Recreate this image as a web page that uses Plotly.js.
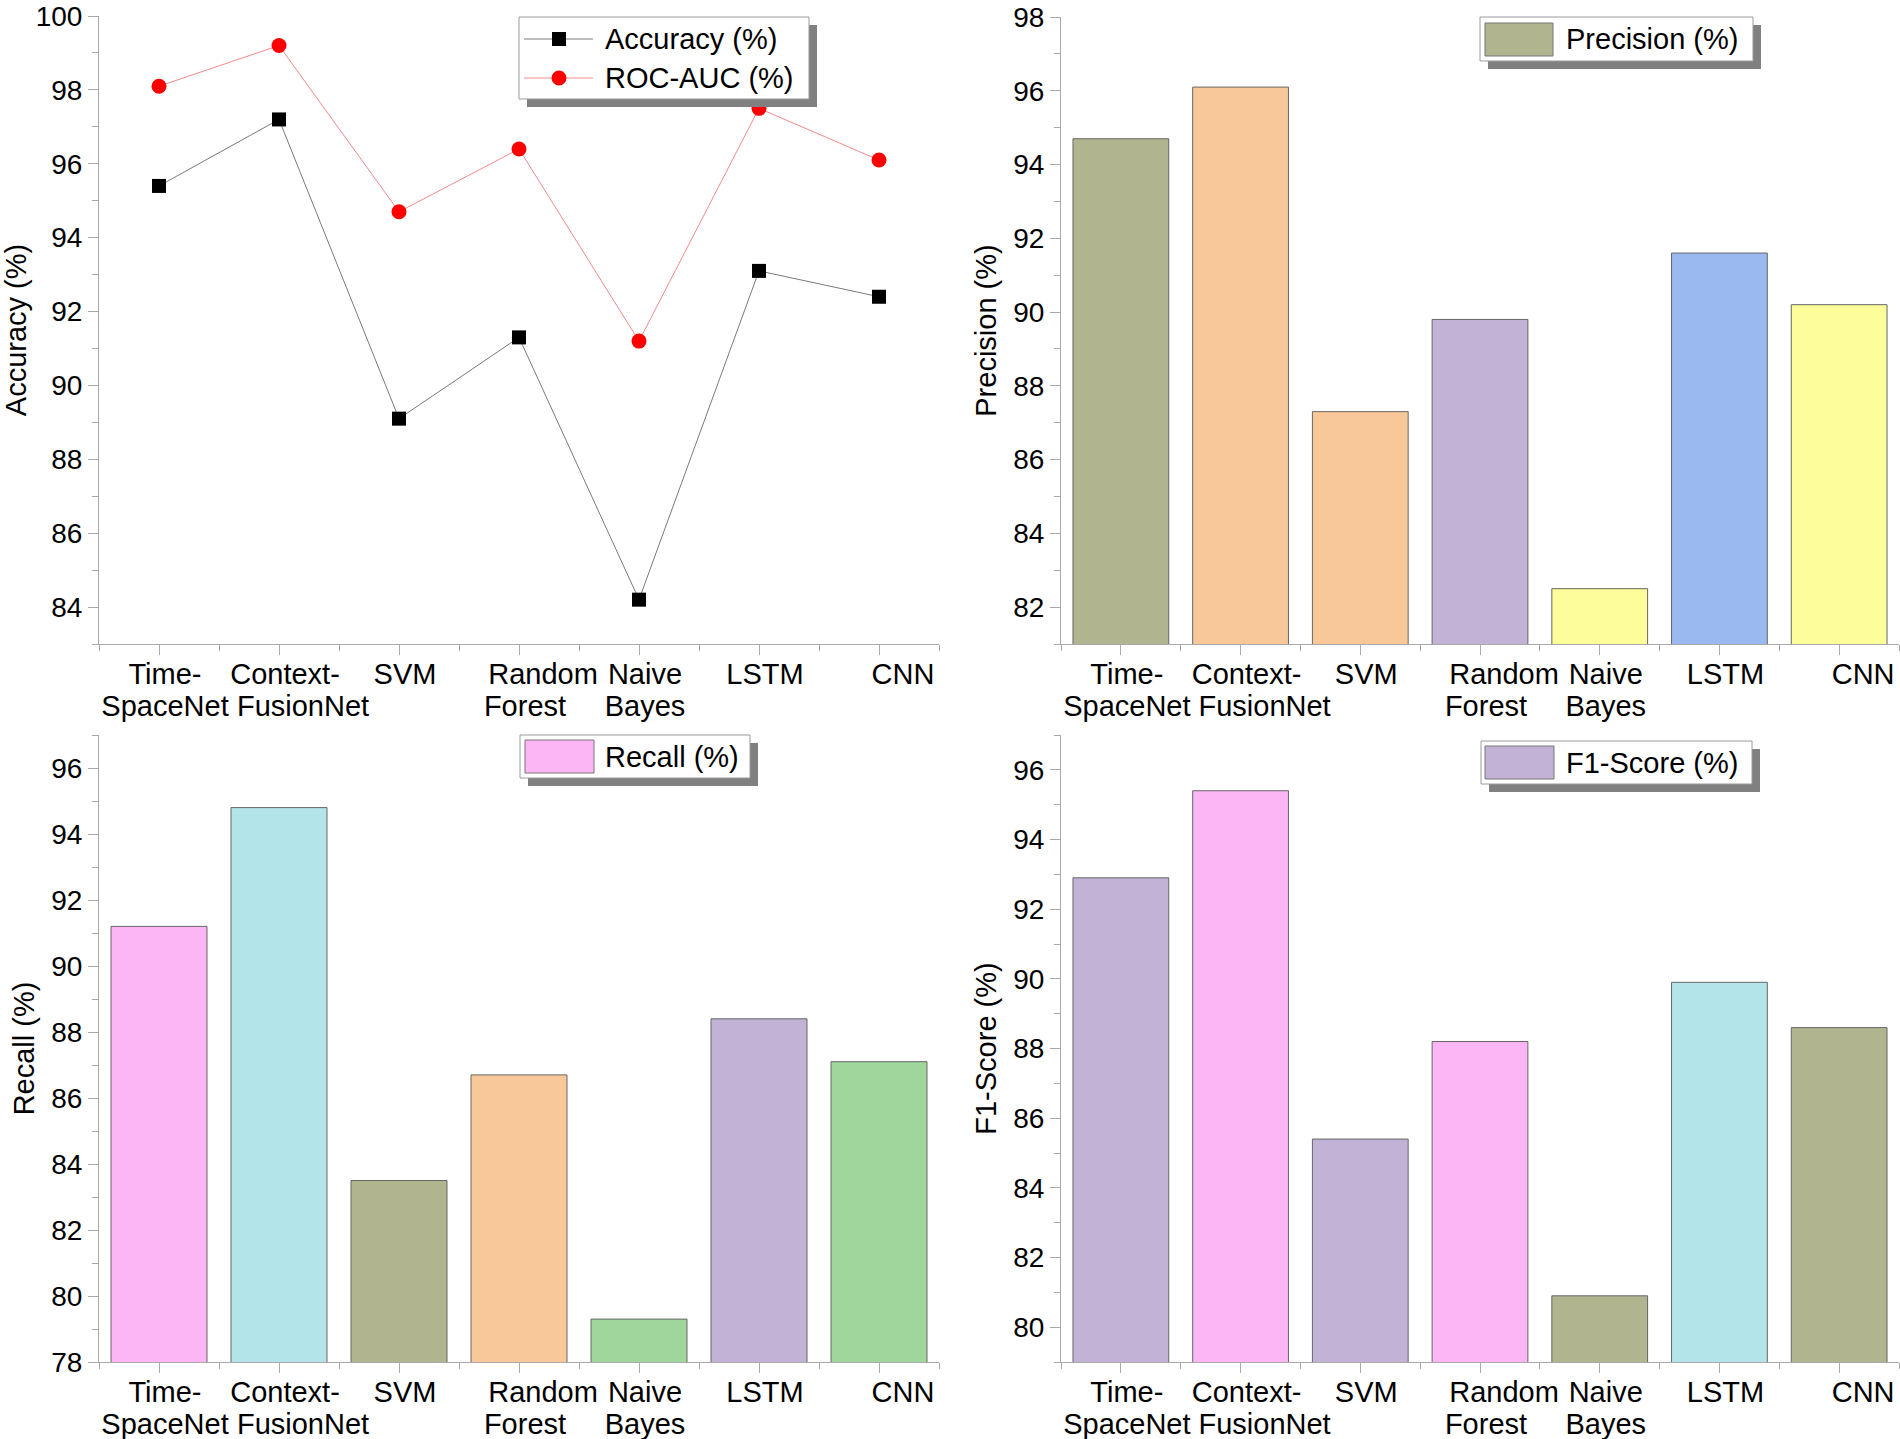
<!DOCTYPE html>
<html>
<head>
<meta charset="utf-8">
<script src="https://cdn.plot.ly/plotly-3.0.1.min.js"></script>
<style>
html, body { margin: 0; padding: 0; background: #ffffff; }
#chart { width: 1900px; height: 1439px; }
</style>
</head>
<body>
<div id="chart"></div>
<script>
// ---------------- data ----------------
const categories  = ['Time-SpaceNet', 'Context-FusionNet', 'SVM', 'Random Forest', 'Naive Bayes', 'LSTM', 'CNN'];
const labelLine1  = ['Time-', 'Context-', 'SVM', 'Random', 'Naive', 'LSTM', 'CNN'];
const labelLine2  = ['SpaceNet', 'FusionNet', '', 'Forest', 'Bayes', '', ''];

const accuracy  = [95.4, 97.2, 89.1, 91.3, 84.2, 93.1, 92.4];
const rocAuc    = [98.1, 99.2, 94.7, 96.4, 91.2, 97.5, 96.1];
const precision = [94.7, 96.1, 87.3, 89.8, 82.5, 91.6, 90.2];
const recall    = [91.2, 94.8, 83.5, 86.7, 79.3, 88.4, 87.1];
const f1Score   = [92.9, 95.4, 85.4, 88.2, 80.9, 89.9, 88.6];

const seriesNames = ['Accuracy (%)', 'ROC-AUC (%)', 'Precision (%)', 'Recall (%)', 'F1-Score (%)'];

// ---------------- palette ----------------
const OLIVE  = '#b1b58f';
const PEACH  = '#f9c898';
const PURPLE = '#c2b2d6';
const YELLOW = '#fdfd99';
const BLUE   = '#9ab9f1';
const PINK   = '#fcb5f5';
const CYAN   = '#b3e4e9';
const GREEN  = '#9ed69b';

const precisionColors = [OLIVE, PEACH, PEACH, PURPLE, YELLOW, BLUE, YELLOW];
const recallColors    = [PINK, CYAN, OLIVE, PEACH, GREEN, PURPLE, GREEN];
const f1Colors        = [PURPLE, PINK, PURPLE, PINK, OLIVE, CYAN, OLIVE];

// ---------------- style helpers ----------------
const W = 1900, H = 1439;
const FONT = '"Liberation Sans", Arial, Helvetica, sans-serif';
const AXC = '#aaaaaa';
const px = x => x / W;
const py = y => 1 - y / H;

// label lines that sit further right of their tick in the reference
const SHIFTED_LABELS = ['Random', 'CNN', 'FusionNet'];
const keepNormal  = arr => arr.map(t => SHIFTED_LABELS.includes(t) ? '' : t);
const keepShifted = arr => arr.map(t => SHIFTED_LABELS.includes(t) ? t : '');

const xVals = categories.map((_, i) => i);
const boundaries = categories.map((_, i) => i - 0.5).concat([categories.length - 0.5]);
const xRange = [-0.5, categories.length - 0.5];

const LINE1_STANDOFF = -6, LINE2_STANDOFF = 26;
const SHIFT_NORMAL = 6, SHIFT_EXTRA = 24;

function xAxis(domain, anchor) {
  return {
    domain: domain, anchor: anchor, range: xRange,
    tickmode: 'array', tickvals: xVals, ticktext: keepNormal(labelLine1),
    tickangle: 0,
    ticks: 'outside', ticklen: 10, tickwidth: 1, tickcolor: AXC,
    showline: true, linecolor: AXC, linewidth: 1,
    showgrid: false, zeroline: false,
    tickfont: { family: FONT, size: 29, color: '#000' },
    ticklabelshift: SHIFT_NORMAL, ticklabelstandoff: LINE1_STANDOFF,
    minor: { tickmode: 'array', tickvals: boundaries, ticks: 'outside', ticklen: 6, tickwidth: 1, tickcolor: AXC, showgrid: false },
    fixedrange: true
  };
}
function labelAxis(overlay, anchor, texts, standoff, shift) {
  return {
    overlaying: overlay, anchor: anchor, side: 'bottom', range: xRange,
    tickmode: 'array', tickvals: xVals, ticktext: texts,
    tickangle: 0,
    ticks: 'outside', ticklen: 10, tickwidth: 1, tickcolor: 'rgba(0,0,0,0)',
    showline: false, showgrid: false, zeroline: false,
    tickfont: { family: FONT, size: 29, color: '#000' },
    ticklabelshift: shift, ticklabelstandoff: standoff,
    fixedrange: true
  };
}
function yAxis(domain, anchor, range, title) {
  return {
    domain: domain, anchor: anchor, range: range,
    tickmode: 'linear', tick0: 0, dtick: 2,
    tickangle: 0,
    ticks: 'outside', ticklen: 10, tickwidth: 1, tickcolor: AXC,
    showline: true, linecolor: AXC, linewidth: 1,
    showgrid: false, zeroline: false,
    tickfont: { family: FONT, size: 28, color: '#000' },
    minor: { dtick: 1, ticks: 'outside', ticklen: 6, tickwidth: 1, tickcolor: AXC, showgrid: false },
    title: { text: title, font: { family: FONT, size: 29, color: '#000' }, standoff: 8 },
    fixedrange: true
  };
}

// ---------------- traces ----------------
const traces = [
  { type: 'scatter', mode: 'lines+markers', name: seriesNames[0], x: xVals, y: accuracy,
    xaxis: 'x', yaxis: 'y',
    line: { color: '#7a7a7a', width: 1 },
    marker: { symbol: 'square', size: 14, color: '#000000' } },
  { type: 'scatter', mode: 'lines+markers', name: seriesNames[1], x: xVals, y: rocAuc,
    xaxis: 'x', yaxis: 'y',
    line: { color: '#f28a8a', width: 1 },
    marker: { symbol: 'circle', size: 15, color: '#ff0000' } },
  { type: 'bar', name: seriesNames[2], x: xVals, y: precision, xaxis: 'x2', yaxis: 'y2',
    marker: { color: precisionColors, line: { color: '#666666', width: 1 } } },
  { type: 'bar', name: seriesNames[3], x: xVals, y: recall, xaxis: 'x3', yaxis: 'y3',
    marker: { color: recallColors, line: { color: '#666666', width: 1 } } },
  { type: 'bar', name: seriesNames[4], x: xVals, y: f1Score, xaxis: 'x4', yaxis: 'y4',
    marker: { color: f1Colors, line: { color: '#666666', width: 1 } } }
];

// ---------------- layout ----------------
const xL = [px(99), px(939)];
const xR = [px(1061), px(1899)];
const yTL = [py(644), py(16)];
const yTR = [py(644), py(17)];
const yB = [py(1362), py(735)];

const layout = {
  width: W, height: H,
  margin: { l: 0, r: 0, t: 0, b: 0, pad: 0 },
  paper_bgcolor: '#ffffff', plot_bgcolor: 'rgba(0,0,0,0)',
  font: { family: FONT, size: 28, color: '#000' },
  showlegend: false,
  bargap: 0.2,
  xaxis: xAxis(xL, 'y'),
  yaxis: yAxis(yTL, 'x', [83, 100], 'Accuracy (%)'),
  xaxis2: xAxis(xR, 'y2'),
  yaxis2: yAxis(yTR, 'x2', [81, 98], 'Precision (%)'),
  xaxis3: xAxis(xL, 'y3'),
  yaxis3: yAxis(yB, 'x3', [78, 97], 'Recall (%)'),
  xaxis4: xAxis(xR, 'y4'),
  yaxis4: yAxis(yB, 'x4', [79, 97], 'F1-Score (%)')
};

// extra label axes: shifted first-line labels, second-line labels, shifted second-line labels
let nextAxis = 5;
[['x', 'y'], ['x2', 'y2'], ['x3', 'y3'], ['x4', 'y4']].forEach(([xa, ya]) => {
  const specs = [
    [keepShifted(labelLine1), LINE1_STANDOFF, SHIFT_EXTRA],
    [keepNormal(labelLine2),  LINE2_STANDOFF, SHIFT_NORMAL],
    [keepShifted(labelLine2), LINE2_STANDOFF, SHIFT_EXTRA]
  ];
  specs.forEach(([texts, standoff, shift]) => {
    const id = 'x' + nextAxis;
    layout['xaxis' + nextAxis] = labelAxis(xa, ya, texts, standoff, shift);
    traces.push({ type: 'scatter', mode: 'markers', x: [], y: [], xaxis: id, yaxis: ya, showlegend: false, hoverinfo: 'skip' });
    nextAxis++;
  });
});

// ---------------- legends (layout decoration) ----------------
const shapes = [];
const annotations = [];
function rectPx(x0, y0, x1, y1, fill, lineColor, lw) {
  shapes.push({ type: 'rect', xref: 'paper', yref: 'paper', layer: 'above',
    x0: px(x0), x1: px(x1), y0: py(y1), y1: py(y0),
    fillcolor: fill, line: { color: lineColor || 'rgba(0,0,0,0)', width: lw || 0 } });
}
function legendBox(x0, y0, x1, y1) {
  rectPx(x0 + 8, y0 + 8, x1 + 8, y1 + 8, '#808080', null, 0);
  rectPx(x0, y0, x1, y1, '#ffffff', '#9a9a9a', 1);
}
function legendText(x, y, text) {
  annotations.push({ xref: 'paper', yref: 'paper', x: px(x), y: py(y), xanchor: 'left', yanchor: 'middle',
    text: text, showarrow: false, font: { family: FONT, size: 29, color: '#000' } });
}
function swatch(x0, y0, x1, y1, color) {
  rectPx(x0, y0, x1, y1, color, '#777777', 1);
}

// Accuracy / ROC-AUC legend
legendBox(519, 17, 809, 99);
[[39, '#7a7a7a', 'square', '#000000', seriesNames[0]], [78, '#f28a8a', 'circle', '#ff0000', seriesNames[1]]].forEach(e => {
  const [yc, lc, sym, mc, label] = e;
  shapes.push({ type: 'line', xref: 'paper', yref: 'paper', layer: 'above',
    x0: px(524), x1: px(593), y0: py(yc), y1: py(yc), line: { color: lc, width: 1 } });
  if (sym === 'square') {
    rectPx(552, yc - 7, 566, yc + 7, mc, null, 0);
  } else {
    shapes.push({ type: 'circle', xref: 'paper', yref: 'paper', layer: 'above',
      x0: px(551.5), x1: px(566.5), y0: py(yc + 7.5), y1: py(yc - 7.5), fillcolor: mc, line: { width: 0 } });
  }
  legendText(603, yc, label);
});

// Precision legend
legendBox(1480, 17, 1753, 61);
swatch(1485, 23, 1553, 56, precisionColors[0]);
legendText(1564, 39.5, seriesNames[2]);

// Recall legend
legendBox(520, 735, 750, 778);
swatch(525, 740, 594, 773, recallColors[0]);
legendText(603, 756.5, seriesNames[3]);

// F1 legend
legendBox(1481, 741, 1752, 784);
swatch(1485, 746, 1554, 779, f1Colors[0]);
legendText(1564, 762.5, seriesNames[4]);

layout.shapes = shapes;
layout.annotations = annotations;

Plotly.newPlot('chart', traces, layout, { staticPlot: true, displayModeBar: false });
</script>
</body>
</html>
